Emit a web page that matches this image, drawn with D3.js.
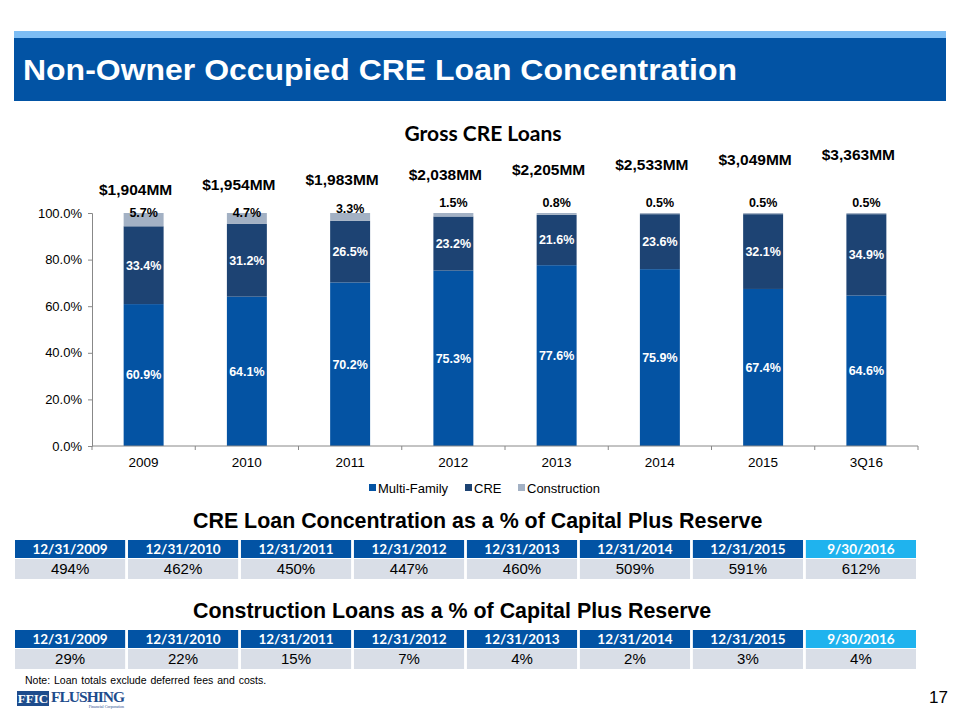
<!DOCTYPE html>
<html><head><meta charset="utf-8">
<script src="https://cdn.jsdelivr.net/npm/d3@7/dist/d3.min.js"></script>
<style>
html,body{margin:0;padding:0;background:#fff;}
svg{display:block;}
</style></head>
<body>
<svg id="chart" width="960" height="720"></svg>
<script>
// ---- data ----
const categories = ["2009","2010","2011","2012","2013","2014","2015","3Q16"];
const multiFamily = [60.9,64.1,70.2,75.3,77.6,75.9,67.4,64.6];
const cre = [33.4,31.2,26.5,23.2,21.6,23.6,32.1,34.9];
const construction = [5.7,4.7,3.3,1.5,0.8,0.5,0.5,0.5];
const totals = ["$1,904MM","$1,954MM","$1,983MM","$2,038MM","$2,205MM","$2,533MM","$3,049MM","$3,363MM"];
const seriesNames = ["Multi-Family","CRE","Construction"];
const yTicks = [0,20,40,60,80,100];
const tableDates = ["12/31/2009","12/31/2010","12/31/2011","12/31/2012","12/31/2013","12/31/2014","12/31/2015","9/30/2016"];
const creConcentration = ["494%","462%","450%","447%","460%","509%","591%","612%"];
const constructionPct = ["29%","22%","15%","7%","4%","2%","3%","4%"];

// ---- styles ----
const C = {mf:"#0453a3", cre:"#1d4373", con:"#a3b1c4", dark:"#0253a4", light:"#7dbdf4", cyan:"#1fb3ee", cell:"#d9dee7"};
const ARIAL = "'Liberation Sans', Arial, sans-serif";
const CALIBRI = "Lato, 'Open Sans', sans-serif";

const svg = d3.select("#chart");

// header
svg.append("rect").attr("x",14).attr("y",31).attr("width",932).attr("height",8).attr("fill",C.light);
svg.append("rect").attr("x",14).attr("y",38).attr("width",932).attr("height",63).attr("fill",C.dark);
svg.append("text").attr("x",23).attr("y",80).attr("fill","#fff")
  .attr("font-family",ARIAL).attr("font-weight","bold").attr("font-size",30)
  .attr("textLength",714).attr("lengthAdjust","spacingAndGlyphs")
  .text("Non-Owner Occupied CRE Loan Concentration");

// chart title
svg.append("text").attr("x",483).attr("y",141).attr("text-anchor","middle")
  .attr("font-family",CALIBRI).attr("font-weight","bold").attr("font-size",21).attr("fill","#000")
  .text("Gross CRE Loans");

// scales
const x0 = 92, x1 = 918, yTop = 213, yBot = 446;
const x = d3.scaleBand().domain(categories).range([x0,x1]).paddingInner(0.613).paddingOuter(0.3065);
const y = d3.scaleLinear().domain([0,100]).range([yBot,yTop]);
const xb = d3.scaleLinear().domain([0,categories.length]).range([x0,x1]);

// stacked data
const rows = categories.map((c,i)=>({cat:c, "Multi-Family":multiFamily[i], "CRE":cre[i], "Construction":construction[i]}));
const stack = d3.stack().keys(seriesNames)(rows);
const colors = {"Multi-Family":C.mf, "CRE":C.cre, "Construction":C.con};

const g = svg.append("g");
stack.forEach(layer=>{
  g.selectAll(null).data(layer).enter().append("rect")
    .attr("x",d=>x(d.data.cat)).attr("width",x.bandwidth())
    .attr("y",d=>y(d[1])).attr("height",d=>y(d[0])-y(d[1]))
    .attr("fill",colors[layer.key]);
});

// y axis
const yAxis = d3.axisLeft(y).tickValues(yTicks).tickFormat(d=>d.toFixed(1)+"%").tickSize(4).tickPadding(6);
const ya = svg.append("g").attr("transform",`translate(${x0},0)`).call(yAxis);
ya.select(".domain").attr("stroke","#888");
ya.selectAll(".tick line").attr("stroke","#888");
ya.selectAll("text").attr("font-family",ARIAL).attr("font-size",13).attr("fill","#000");

// x axis
svg.append("line").attr("x1",x0).attr("x2",x1).attr("y1",yBot).attr("y2",yBot).attr("stroke","#888");
svg.selectAll(".xt").data(d3.range(categories.length+1)).enter().append("line")
  .attr("x1",d=>xb(d)).attr("x2",d=>xb(d)).attr("y1",yBot).attr("y2",yBot+4).attr("stroke","#888");
svg.selectAll(".xl").data(categories).enter().append("text")
  .attr("x",d=>x(d)+x.bandwidth()/2).attr("y",yBot+16).attr("dy","0.35em").attr("text-anchor","middle")
  .attr("font-family",ARIAL).attr("font-size",13.5).attr("fill","#000").text(d=>d);

// segment labels
const pct = v=>v.toFixed(1)+"%";
[["Multi-Family",0],["CRE",1]].forEach(([k,li])=>{
  svg.selectAll(null).data(stack[li]).enter().append("text")
    .attr("x",d=>x(d.data.cat)+x.bandwidth()/2).attr("y",d=>y((d[0]+d[1])/2)).attr("dy","0.35em")
    .attr("text-anchor","middle").attr("font-family",ARIAL).attr("font-weight","bold").attr("font-size",12.5)
    .attr("fill","#fff").text(d=>pct(d.data[k]));
});
const conLift = d3.scaleLinear().domain([1.5,4.7]).range([-10,0]).clamp(true);
svg.selectAll(null).data(stack[2]).enter().append("text")
  .attr("x",d=>x(d.data.cat)+x.bandwidth()/2).attr("y",d=>y(100)+conLift(d.data.Construction)).attr("dy","0.35em")
  .attr("text-anchor","middle").attr("font-family",ARIAL).attr("font-weight","bold").attr("font-size",12.5)
  .attr("fill","#000").text(d=>pct(d.data.Construction));

// totals
const ty = d3.scaleLinear().domain([0,categories.length-1]).range([190,155]);
svg.selectAll(null).data(totals).enter().append("text")
  .attr("x",(d,i)=>x(categories[i])+x.bandwidth()/2-8).attr("y",(d,i)=>ty(i)).attr("dy","0.35em")
  .attr("text-anchor","middle").attr("font-family",ARIAL).attr("font-weight","bold").attr("font-size",15.5)
  .attr("fill","#000").text(d=>d);

// legend
const legX = [369,465,518];
const lg = svg.append("g");
seriesNames.forEach((s,i)=>{
  lg.append("rect").attr("x",legX[i]).attr("y",484).attr("width",7).attr("height",7).attr("fill",colors[s]);
  lg.append("text").attr("x",legX[i]+9).attr("y",488).attr("dy","0.35em")
    .attr("font-family",ARIAL).attr("font-size",13).attr("fill","#000").text(s);
});

// tables
const tx = d3.scaleBand().domain(tableDates).range([15,916]).paddingInner(0.025);
function drawTable(title, titleY, top, values){
  svg.append("text").attr("x",193).attr("y",titleY)
    .attr("font-family",ARIAL).attr("font-weight","bold").attr("font-size",21.4).attr("fill","#000").text(title);
  const t = svg.append("g");
  t.selectAll(null).data(tableDates).enter().append("rect")
    .attr("x",d=>tx(d)).attr("y",top).attr("width",tx.bandwidth()).attr("height",18)
    .attr("fill",(d,i)=>i===tableDates.length-1?C.cyan:C.dark);
  t.selectAll(null).data(tableDates).enter().append("text")
    .attr("x",d=>tx(d)+tx.bandwidth()/2).attr("y",top+9).attr("dy","0.36em").attr("text-anchor","middle")
    .attr("font-family",CALIBRI).attr("font-weight","bold").attr("font-size",13.5).attr("fill","#fff").text(d=>d);
  t.selectAll(null).data(values).enter().append("rect")
    .attr("x",(d,i)=>tx(tableDates[i])).attr("y",top+19).attr("width",tx.bandwidth()).attr("height",20)
    .attr("fill",C.cell);
  t.selectAll(null).data(values).enter().append("text")
    .attr("x",(d,i)=>tx(tableDates[i])+tx.bandwidth()/2).attr("y",top+29).attr("dy","0.36em").attr("text-anchor","middle")
    .attr("font-family",ARIAL).attr("font-size",15).attr("fill","#000").text(d=>d);
}
drawTable("CRE Loan Concentration as a % of Capital Plus Reserve", 528, 540, creConcentration);
drawTable("Construction Loans as a % of Capital Plus Reserve", 618, 630, constructionPct);

// note
svg.append("text").attr("x",25).attr("y",684).attr("font-family",ARIAL).attr("font-size",10.5).attr("fill","#000")
  .attr("word-spacing",1).text("Note: Loan totals exclude deferred fees and costs.");

// logo
svg.append("rect").attr("x",17).attr("y",691).attr("width",32).attr("height",15).attr("fill","#1e4c8c");
svg.append("text").attr("x",33).attr("y",703).attr("text-anchor","middle").attr("font-family","'Liberation Serif', serif")
  .attr("font-weight","bold").attr("font-size",13).attr("fill","#fff").text("FFIC");
svg.append("text").attr("x",51).attr("y",702).attr("font-family","'Liberation Serif', serif")
  .attr("font-weight","bold").attr("font-size",15.5).attr("fill","#1e4c8c").attr("textLength",74).text("FLUSHING");
svg.append("text").attr("x",124).attr("y",707.5).attr("text-anchor","end").attr("font-family","'Liberation Serif', serif")
  .attr("font-size",4).attr("fill","#1e4c8c").text("Financial Corporation");

// page number
svg.append("text").attr("x",948).attr("y",703).attr("text-anchor","end").attr("font-family",ARIAL)
  .attr("font-size",17).attr("fill","#000").text("17");
</script>
</body></html>
